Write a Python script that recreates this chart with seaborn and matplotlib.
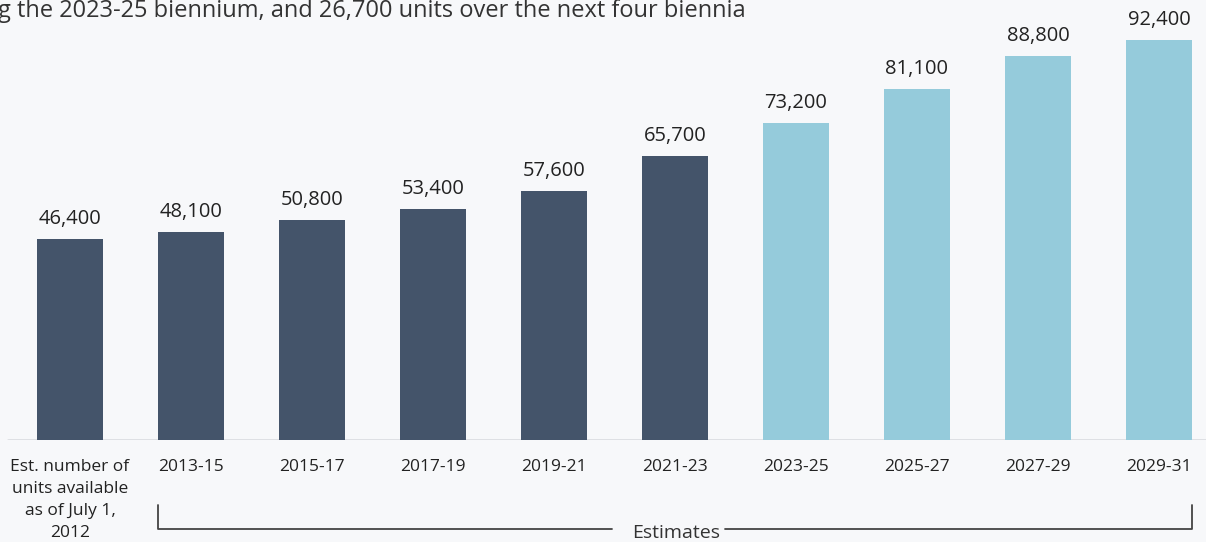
import matplotlib
matplotlib.use("Agg")
import matplotlib.pyplot as plt
import matplotlib.transforms as mtransforms
import seaborn as sns
import pandas as pd

periods = ["Est. number of\nunits available\nas of July 1,\n2012", "2013-15", "2015-17", "2017-19",
           "2019-21", "2021-23", "2023-25", "2025-27", "2027-29", "2029-31"]
units = [46400, 48100, 50800, 53400, 57600, 65700, 73200, 81100, 88800, 92400]
kind = ["actual"] * 6 + ["estimate"] * 4

df = pd.DataFrame({"period": periods, "units": units, "kind": kind})

bg = "#f7f8fa"
sns.set_theme(style="white")
plt.rcParams["font.family"] = ["Open Sans", "DejaVu Sans"]

fig = plt.figure(figsize=(12.06, 5.42), dpi=100, facecolor=bg)
ax = fig.add_axes([0, 102 / 542, 1, 440 / 542])
ax.set_facecolor(bg)

sns.barplot(data=df, x="period", y="units", hue="kind",
            palette={"actual": "#44546a", "estimate": "#95cbdb"},
            dodge=False, width=0.545, legend=False, saturation=1, linewidth=0, ax=ax)

ax.set_xlim(-70 / 121, (1206 - 70) / 121)
ax.set_ylim(0, 101640)
for s in ax.spines.values():
    s.set_visible(False)
ax.set_yticks([])
ax.set_xlabel("")
ax.set_ylabel("")
ax.axhline(0, xmin=8 / 1206, xmax=1, color="#dcdee2", lw=2, zorder=0)

ax.tick_params(axis="x", length=0, pad=14, labelsize=12.5, labelcolor="#222222")
for lbl in ax.get_xticklabels():
    lbl.set_linespacing(1.5)

for i, v in enumerate(units):
    ax.annotate(f"{v:,}", (i, v), xytext=(0, 7), textcoords="offset points",
                ha="center", va="bottom", fontsize=14.5, color="#222222")

# bracket under the estimate periods
tr = mtransforms.blended_transform_factory(ax.transData, ax.transAxes)
left, right = 1 - 0.2727, 9 + 0.2727
y0, y1 = -0.1477, -0.2023
kw = dict(color="#444444", lw=1.3, transform=tr, clip_on=False)
ax.plot([left, left, 4.48], [y0, y1, y1], **kw)
ax.plot([5.41, right, right], [y1, y1, y0], **kw)
ax.text(5.008, y1 - 0.01, "Estimates", transform=tr, ha="center", va="center",
        fontsize=14, color="#333333", clip_on=False)

fig.text(-0.002, 1 - 17 / 542, "g the 2023-25 biennium, and 26,700 units over the next four biennia",
         ha="left", va="baseline", fontsize=17, color="#333333")

fig.savefig("out.png", dpi=100, facecolor=bg)
